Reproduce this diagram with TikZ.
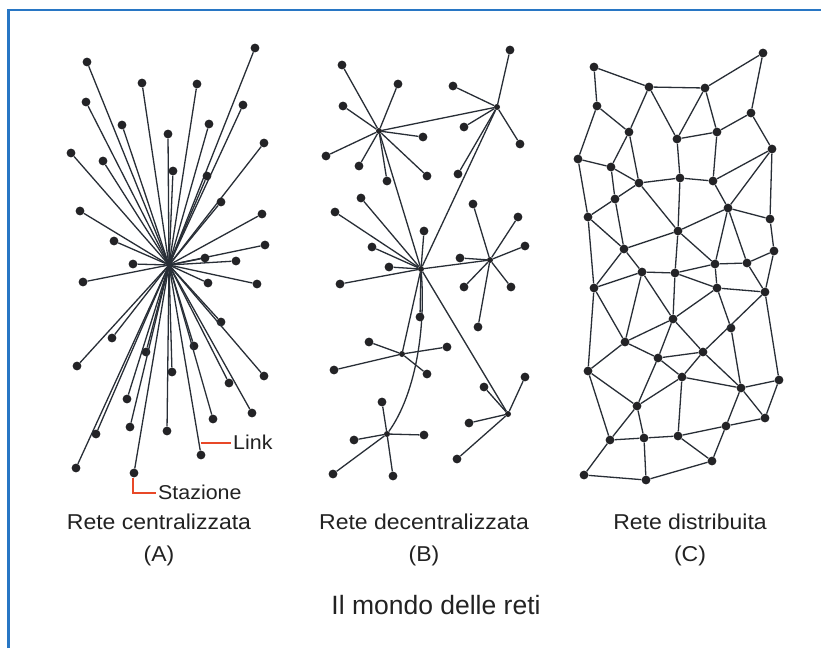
\documentclass[tikz,border=0pt]{standalone}
\usepackage{fontspec}
\setmainfont{Liberation Sans}
\newfontfamily\labelfont[FakeStretch=1.07]{Liberation Sans}
\definecolor{frameblue}{RGB}{40,118,196}
\definecolor{linkgray}{RGB}{40,46,54}
\definecolor{dotgray}{RGB}{35,35,38}
\definecolor{textgray}{RGB}{34,34,34}
\definecolor{markred}{RGB}{232,72,40}
\tikzset{
  dot/.style={circle,fill=dotgray,draw=none,inner sep=0pt,minimum size=8.8pt},
  hubdot/.style={circle,fill=dotgray,draw=none,inner sep=0pt,minimum size=6pt},
  link/.style={draw=linkgray,line width=1.3pt},
  frameline/.style={draw=frameblue,line width=2.8pt},
  marker/.style={draw=markred,line width=2.5pt},
  caption/.style={font=\labelfont\fontsize{21.5}{25}\selectfont,text=textgray,anchor=base,inner sep=0pt},
  title/.style={font=\fontsize{26.5}{30}\selectfont,text=textgray,anchor=base,inner sep=0pt}
}
\begin{document}
\begin{tikzpicture}[x=1pt,y=-1pt]
\useasboundingbox (0,0) rectangle (821,648);
\fill[white] (0,0) rectangle (821,648);
\draw[frameline] (8.7,648) -- (8.7,10) -- (821,10);

% ---------- centralized network ----------
\coordinate (hubA) at (169,265);
\foreach \i/\x/\y in {1/87/62, 2/255/48, 3/142/83, 4/197/84, 5/86/102, 6/243/105,
  7/122/125, 8/209/124, 9/168/134, 10/264/143, 11/71/153, 12/103/161, 13/173/171,
  14/207/176, 15/221/202, 16/80/211, 17/262/214, 18/114/241, 19/265/245, 20/133/264,
  21/236/261, 22/205/258, 23/83/282, 24/208/283, 25/257/284, 26/221/322, 27/112/338,
  28/146/352, 29/194/346, 30/77/366, 31/172/372, 32/264/376, 33/229/383, 34/127/399,
  35/252/413, 36/213/419, 37/130/427, 38/167/431, 39/96/434, 40/201/455, 41/76/468,
  42/134/473}
{
  \node[dot] (a\i) at (\x,\y) {};
  \draw[link] (hubA) -- (a\i);
}
% label markers
\coordinate (linkA) at (201,443);
\coordinate (linkB) at (231,443);
\draw[marker] (linkA) -- (linkB);
\node[caption,anchor=base west,font=\labelfont\fontsize{20}{24}\selectfont] (linktext) at (233,449) {Link};
\coordinate (staA) at (133,478);
\coordinate (staB) at (133,493);
\coordinate (staC) at (156,493);
\draw[marker] (staA) -- (staB) -- (staC);
\node[caption,anchor=base west,font=\labelfont\fontsize{20}{24}\selectfont] (statext) at (158,499) {Stazione};

% ---------- decentralized network ----------
\foreach \n/\x/\y in {b1/379/131, b2/497/107, b3/421/269, b4/490/260, b5/402/354,
  b6/387/434, b7/508/414}
  \node[hubdot] (\n) at (\x,\y) {};
\draw[link] (b1) -- (b2);
\draw[link] (b1) -- (b3);
\draw[link] (b2) -- (b3);
\draw[link] (b3) -- (b4);
\draw[link] (b3) -- (b5);
\draw[link] (b3) -- (b7);
\draw[link] (b3) .. controls (426,330) and (415,395) .. (b6);
\foreach \i/\x/\y in {1/342/65, 2/398/84, 3/343/106, 4/423/137, 5/326/156,
  6/359/166, 7/427/176, 8/387/181}
  {\node[dot] (b1-\i) at (\x,\y) {}; \draw[link] (b1) -- (b1-\i);}
\foreach \i/\x/\y in {1/510/50, 2/453/86, 3/464/127, 4/520/144, 5/458/174}
  {\node[dot] (b2-\i) at (\x,\y) {}; \draw[link] (b2) -- (b2-\i);}
\foreach \i/\x/\y in {1/335/212, 2/361/198, 3/424/231, 4/372/247, 5/389/267,
  6/340/284, 7/420/317}
  {\node[dot] (b3-\i) at (\x,\y) {}; \draw[link] (b3) -- (b3-\i);}
\foreach \i/\x/\y in {1/473/204, 2/518/217, 3/525/246, 4/460/258, 5/464/287,
  6/511/287, 7/478/327}
  {\node[dot] (b4-\i) at (\x,\y) {}; \draw[link] (b4) -- (b4-\i);}
\foreach \i/\x/\y in {1/369/342, 2/447/347, 3/334/370, 4/427/374}
  {\node[dot] (b5-\i) at (\x,\y) {}; \draw[link] (b5) -- (b5-\i);}
\foreach \i/\x/\y in {1/382/402, 2/354/440, 3/424/435, 4/333/474, 5/393/476}
  {\node[dot] (b6-\i) at (\x,\y) {}; \draw[link] (b6) -- (b6-\i);}
\foreach \i/\x/\y in {1/484/387, 2/525/377, 3/469/423, 4/457/459}
  {\node[dot] (b7-\i) at (\x,\y) {}; \draw[link] (b7) -- (b7-\i);}

% ---------- distributed network ----------
\foreach \i/\x/\y in {1/594/67, 2/763/53, 3/649/87, 4/705/88, 5/597/106, 6/751/113,
  7/629/132, 8/717/132, 9/677/139, 10/772/149, 11/578/159, 12/611/167, 13/639/183,
  14/680/178, 15/713/181, 16/615/199, 17/728/208, 18/588/217, 19/770/219, 20/678/231,
  21/624/249, 22/774/251, 23/715/264, 24/747/263, 25/642/272, 26/675/273, 27/594/288,
  28/717/288, 29/765/292, 30/673/319, 31/731/328, 32/625/342, 33/703/352, 34/658/358,
  35/588/371, 36/682/377, 37/779/380, 38/741/388, 39/637/406, 40/765/418, 41/726/426,
  42/610/440, 43/644/438, 44/678/436, 45/712/461, 46/584/475, 47/646/480}
  \node[dot] (c\i) at (\x,\y) {};
\foreach \p/\q in {1/3, 1/5, 3/4, 4/2, 2/6, 3/7, 3/9, 4/9, 4/8, 5/7, 5/11, 7/12,
  7/13, 9/8, 8/6, 6/10, 9/14, 8/15, 11/12, 11/18, 12/13, 12/16, 13/14, 14/15, 15/10,
  10/17, 10/19, 15/17, 13/16, 13/20, 14/20, 16/18, 16/21, 18/21, 18/27, 20/17, 17/19,
  19/22, 17/23, 17/24, 20/21, 20/26, 20/23, 21/25, 21/27, 22/24, 22/29, 23/24, 23/26,
  23/28, 24/29, 25/26, 25/27, 25/32, 25/30, 26/30, 26/28, 28/29, 28/30, 28/31, 29/33,
  29/37, 27/32, 27/35, 30/32, 30/34, 30/33, 31/38, 32/34, 32/35, 34/33, 34/39, 34/36,
  33/36, 33/38, 35/39, 35/42, 36/39, 36/38, 36/44, 37/38, 37/40, 38/40, 38/41, 39/42,
  39/43, 40/41, 41/44, 41/45, 42/43, 43/44, 44/45, 42/46, 43/47, 46/47, 47/45}
  \draw[link] (c\p) -- (c\q);

% ---------- captions ----------
\node[caption] (capA) at (159,529) {Rete centralizzata};
\node[caption] (capAl) at (159,561) {(A)};
\node[caption] (capB) at (424,529) {Rete decentralizzata};
\node[caption] (capBl) at (424,561) {(B)};
\node[caption] (capC) at (690,529) {Rete distribuita};
\node[caption] (capCl) at (690,561) {(C)};
\node[title] (maintitle) at (436,614) {Il mondo delle reti};
\end{tikzpicture}
\end{document}
